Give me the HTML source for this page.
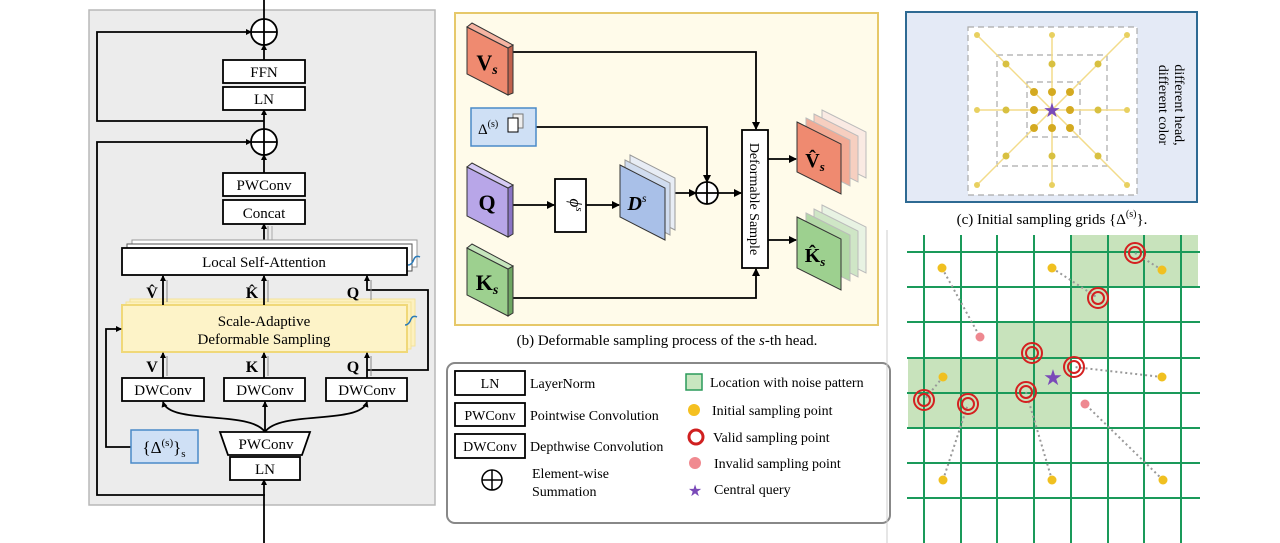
<!DOCTYPE html>
<html><head><meta charset="utf-8"><style>
html,body{margin:0;padding:0;background:#fff;}
svg{display:block;font-family:"Liberation Serif",serif;}
</style></head><body>
<svg width="1280" height="543" viewBox="0 0 1280 543" xmlns="http://www.w3.org/2000/svg">
<defs>
<marker id="a" markerWidth="8" markerHeight="8" refX="7" refY="4" orient="auto" markerUnits="userSpaceOnUse"><path d="M0,0 L8,4 L0,8 z" fill="#000"/></marker>
<marker id="s" markerWidth="6" markerHeight="6" refX="5" refY="3" orient="auto" markerUnits="userSpaceOnUse"><path d="M0,0 L6,3 L0,6 z" fill="#000"/></marker>
</defs>

<!-- ============ LEFT PANEL ============ -->
<rect x="89" y="10" width="346" height="495" fill="#ececec" stroke="#b8b8b8" stroke-width="1.5"/>
<g stroke="#000" stroke-width="1.8" fill="none">
<line x1="264" y1="0" x2="264" y2="19"/>
<circle cx="264" cy="32" r="13" fill="#fff"/>
<line x1="251" y1="32" x2="277" y2="32"/><line x1="264" y1="19" x2="264" y2="45"/>
<line x1="264" y1="60" x2="264" y2="45" marker-end="url(#s)"/>
<polyline points="264,121 97,121 97,32 251,32" marker-end="url(#s)"/>
<circle cx="264" cy="142" r="13" fill="#fff"/>
<line x1="251" y1="142" x2="277" y2="142"/><line x1="264" y1="129" x2="264" y2="155"/>
<line x1="264" y1="129" x2="264" y2="110" marker-end="url(#s)"/>
<line x1="264" y1="173" x2="264" y2="155" marker-end="url(#s)"/>
<polyline points="265,495 97,495 97,142 251,142" marker-end="url(#s)"/>
<line x1="264" y1="543" x2="264" y2="480" marker-end="url(#s)"/>
<line x1="264" y1="248" x2="264" y2="224" marker-end="url(#s)"/>
<line x1="268" y1="246" x2="268" y2="226" stroke="#888" stroke-width="1"/>
<line x1="272" y1="246" x2="272" y2="226" stroke="#aaa" stroke-width="1"/>
</g>
<g stroke="#000" stroke-width="1.8" fill="#fff">
<rect x="223" y="60" width="82" height="23"/>
<rect x="223" y="87" width="82" height="23"/>
<rect x="223" y="173" width="82" height="23"/>
<rect x="223" y="200" width="82" height="24"/>
</g>
<g font-size="15" text-anchor="middle">
<text x="264" y="77">FFN</text><text x="264" y="104">LN</text>
<text x="264" y="190">PWConv</text><text x="264" y="218">Concat</text>
</g>
<!-- LSA stack -->
<rect x="132" y="240" width="285" height="27" fill="#fff" stroke="#999" stroke-width="1"/>
<rect x="127" y="244" width="285" height="27" fill="#fff" stroke="#555" stroke-width="1"/>
<rect x="122" y="248" width="285" height="27" fill="#fff" stroke="#000" stroke-width="1.8"/>
<text x="264" y="267" font-size="15" text-anchor="middle">Local Self-Attention</text>
<path d="M408,265 q4,0 6,-6 q2,-4 6,-2" stroke="#2a7ab8" stroke-width="1.5" fill="none"/>
<!-- SADS -->
<rect x="130" y="299" width="285" height="47" fill="#fdf1bf" stroke="#f3e29a" stroke-width="1"/>
<rect x="126" y="302" width="285" height="47" fill="#fdf1bf" stroke="#f3e29a" stroke-width="1"/>
<rect x="122" y="305" width="285" height="47" fill="#fdf3c8" stroke="#f0d878" stroke-width="2"/>
<text x="264" y="326" font-size="15" text-anchor="middle">Scale-Adaptive</text>
<text x="264" y="344" font-size="15" text-anchor="middle">Deformable Sampling</text>
<path d="M405,325 q4,0 6,-6 q2,-4 6,-2" stroke="#2a7ab8" stroke-width="1.5" fill="none"/>
<g stroke="#000" stroke-width="1.8" fill="none">
<line x1="163" y1="305" x2="163" y2="276" marker-end="url(#s)"/>
<line x1="264" y1="305" x2="264" y2="276" marker-end="url(#s)"/>
<line x1="367" y1="378" x2="367" y2="353" marker-end="url(#s)"/>
<line x1="163" y1="378" x2="163" y2="353" marker-end="url(#s)"/>
<line x1="264" y1="378" x2="264" y2="353" marker-end="url(#s)"/>
<polyline points="367,370 428,370 428,290 367,290 367,276" marker-end="url(#s)"/>
<polyline points="165,447 106,447 106,329 121,329" marker-end="url(#s)"/>
<path d="M265,432 C250,410 170,425 163,402" marker-end="url(#s)"/>
<path d="M265,432 C280,410 360,425 367,402" marker-end="url(#s)"/>
<line x1="265" y1="432" x2="265" y2="402" marker-end="url(#s)"/>
<line x1="265" y1="479" x2="265" y2="457"/>
</g>
<g stroke="#888" stroke-width="1"><line x1="167" y1="302" x2="167" y2="280"/><line x1="268" y1="302" x2="268" y2="280"/><line x1="371" y1="300" x2="371" y2="280"/><line x1="167" y1="376" x2="167" y2="356"/><line x1="268" y1="376" x2="268" y2="356"/><line x1="371" y1="376" x2="371" y2="356"/></g>
<g font-size="16" font-weight="bold" text-anchor="middle">
<text x="152" y="298">V̂</text><text x="252" y="298">K̂</text><text x="353" y="298">Q</text>
<text x="152" y="372">V</text><text x="252" y="372">K</text><text x="353" y="372">Q</text>
</g>
<g stroke="#000" stroke-width="1.8" fill="#fff">
<rect x="122" y="378" width="82" height="23"/>
<rect x="224" y="378" width="81" height="23"/>
<rect x="326" y="378" width="81" height="23"/>
<polygon points="220,432 310,432 302,455 228,455"/>
<rect x="230" y="457" width="70" height="23"/>
</g>
<g font-size="15" text-anchor="middle">
<text x="163" y="395">DWConv</text><text x="265" y="395">DWConv</text><text x="367" y="395">DWConv</text>
<text x="266" y="449">PWConv</text><text x="265" y="474">LN</text>
</g>
<rect x="131" y="430" width="67" height="33" fill="#cfe0f5" stroke="#4a8ac8" stroke-width="1.5"/>
<text x="164" y="453" font-size="17" text-anchor="middle">{Δ<tspan font-size="11" dy="-7">(s)</tspan><tspan dy="7">}</tspan><tspan font-size="11" dy="4">s</tspan></text>

<!-- ============ MIDDLE PANEL ============ -->
<rect x="455" y="13" width="423" height="312" fill="#fffbea" stroke="#e6c869" stroke-width="2"/>
<g stroke="#000" stroke-width="1.8" fill="none">
<polyline points="513,52 756,52 756,129" marker-end="url(#a)"/>
<polyline points="536,127 707,127 707,182" marker-end="url(#a)"/>
<polyline points="513,298 756,298 756,269" marker-end="url(#a)"/>
<line x1="513" y1="205" x2="554" y2="205" marker-end="url(#a)"/>
<line x1="586" y1="205" x2="619" y2="205" marker-end="url(#a)"/>
<line x1="675" y1="193" x2="696" y2="193" marker-end="url(#a)"/>
<line x1="718" y1="193" x2="741" y2="193" marker-end="url(#a)"/>
<line x1="768" y1="159" x2="796" y2="159" marker-end="url(#a)"/>
<line x1="768" y1="240" x2="796" y2="240" marker-end="url(#a)"/>
<circle cx="707" cy="193" r="11" fill="#fff"/>
<line x1="696" y1="193" x2="718" y2="193"/><line x1="707" y1="182" x2="707" y2="204"/>
</g>
<!-- 3D plates -->
<g stroke="#333" stroke-width="1">
<polygon points="467,27 508,48 508,95 467,74" fill="#ef8a70"/>
<polygon points="508,48 513,45 513,93 508,95" fill="#c0614c"/>
<polygon points="467,27 472,23 513,45 508,48" fill="#f6b4a2"/>
<polygon points="467,167 508,188 508,237 467,216" fill="#b8a6e8"/>
<polygon points="508,188 513,185 513,234 508,237" fill="#8a74c4"/>
<polygon points="467,167 472,163 513,185 508,188" fill="#d6cbf4"/>
<polygon points="467,248 508,269 508,316 467,295" fill="#9dd08f"/>
<polygon points="508,269 513,266 513,313 508,316" fill="#6ea662"/>
<polygon points="467,248 472,244 513,266 508,269" fill="#c6e6bd"/>
</g>
<g font-size="22" font-weight="bold" text-anchor="middle">
<text x="487" y="70">V<tspan font-size="14" font-style="italic" dy="4">s</tspan></text>
<text x="487" y="210">Q</text>
<text x="487" y="290">K<tspan font-size="14" font-style="italic" dy="4">s</tspan></text>
</g>
<rect x="471" y="108" width="65" height="38" fill="#cfe0f5" stroke="#4a8ac8" stroke-width="1.5"/>
<text x="478" y="134" font-size="15">Δ<tspan font-size="10" dy="-7">(s)</tspan></text>
<rect x="513" y="114" width="10" height="14" fill="#eee" stroke="#777" stroke-width="1"/>
<rect x="508" y="118" width="10" height="14" fill="#fff" stroke="#000" stroke-width="1"/>
<rect x="555" y="179" width="31" height="53" fill="#fff" stroke="#000" stroke-width="1.8"/>
<text x="570" y="205" font-size="17" font-style="italic" text-anchor="middle" transform="rotate(90 570 205)">ϕ<tspan font-size="11" dy="-6">s</tspan></text>
<!-- Ds stack -->
<g stroke="#999" stroke-width="1">
<polygon points="630,155 675,178 675,230 630,207" fill="#e8edf5"/>
<polygon points="625,160 670,183 670,235 625,212" fill="#d0dcef"/>
</g>
<polygon points="620,165 665,188 665,240 620,217" fill="#a9c0e8" stroke="#333" stroke-width="1"/>
<text x="637" y="210" font-size="20" font-weight="bold" font-style="italic" text-anchor="middle">D<tspan font-size="12" dy="-8" font-weight="normal">s</tspan></text>
<!-- Deformable sample -->
<rect x="742" y="130" width="26" height="138" fill="#fff" stroke="#000" stroke-width="1.8"/>
<text x="755" y="199" font-size="14" text-anchor="middle" transform="rotate(90 755 199)" dy="5">Deformable Sample</text>
<!-- Vs hat stack -->
<g stroke="#bbb" stroke-width="1">
<polygon points="822,110 866,132 866,178 822,156" fill="#faeae3"/>
<polygon points="814,114 858,136 858,182 814,160" fill="#f6cfc0"/>
<polygon points="806,118 850,140 850,186 806,164" fill="#f2aa94"/>
</g>
<polygon points="797,122 841,144 841,194 797,172" fill="#ef8a70" stroke="#333" stroke-width="1"/>
<text x="815" y="167" font-size="20" font-weight="bold" text-anchor="middle">V̂<tspan font-size="13" font-style="italic" dy="4">s</tspan></text>
<g stroke="#bbb" stroke-width="1">
<polygon points="822,205 866,227 866,273 822,251" fill="#e8f3e3"/>
<polygon points="814,209 858,231 858,277 814,255" fill="#cfe6c6"/>
<polygon points="806,213 850,235 850,281 806,259" fill="#b3d9a7"/>
</g>
<polygon points="797,217 841,239 841,290 797,268" fill="#9dd08f" stroke="#333" stroke-width="1"/>
<text x="815" y="262" font-size="20" font-weight="bold" text-anchor="middle">K̂<tspan font-size="13" font-style="italic" dy="4">s</tspan></text>
<text x="667" y="345" font-size="15" text-anchor="middle">(b) Deformable sampling process of the <tspan font-style="italic">s</tspan>-th head.</text>

<!-- Legend -->
<rect x="447" y="363" width="443" height="160" rx="8" fill="#fff" stroke="#888" stroke-width="2"/>
<g stroke="#000" stroke-width="1.8" fill="#fff">
<rect x="455" y="371" width="70" height="24"/>
<rect x="455" y="403" width="70" height="23"/>
<rect x="455" y="434" width="70" height="24"/>
</g>
<g font-size="14">
<text x="490" y="388" text-anchor="middle">LN</text>
<text x="490" y="420" text-anchor="middle">PWConv</text>
<text x="490" y="451" text-anchor="middle">DWConv</text>
<text x="530" y="388">LayerNorm</text>
<text x="530" y="420">Pointwise Convolution</text>
<text x="530" y="451">Depthwise Convolution</text>
<text x="532" y="478">Element-wise</text>
<text x="532" y="496">Summation</text>
<text x="710" y="387">Location with noise pattern</text>
<text x="712" y="415">Initial sampling point</text>
<text x="713" y="442">Valid sampling point</text>
<text x="714" y="468">Invalid sampling point</text>
<text x="714" y="494">Central query</text>
</g>
<g stroke="#000" stroke-width="1.5" fill="none"><circle cx="492" cy="480" r="10"/><line x1="482" y1="480" x2="502" y2="480"/><line x1="492" y1="470" x2="492" y2="490"/></g>
<rect x="686" y="374" width="16" height="16" fill="#c8e6c0" stroke="#2a9a5a" stroke-width="1.5"/>
<circle cx="694" cy="410" r="6" fill="#f5c020"/>
<circle cx="696" cy="437" r="7" fill="#fff" stroke="#d02020" stroke-width="3"/>
<circle cx="695" cy="463" r="6" fill="#f08a90"/>
<text x="695" y="496" font-size="16" fill="#7a4ab8" text-anchor="middle">★</text>

<!-- ============ RIGHT PANEL ============ -->
<rect x="906" y="12" width="291" height="190" fill="#e4eaf6" stroke="#2e6a93" stroke-width="2"/>
<rect x="968" y="27" width="169" height="168" fill="#fff" stroke="#aaa" stroke-width="1.2" stroke-dasharray="6,4"/>
<rect x="997" y="55" width="110" height="111" fill="none" stroke="#aaa" stroke-width="1.2" stroke-dasharray="6,4"/>
<rect x="1027" y="82" width="53" height="55" fill="none" stroke="#aaa" stroke-width="1.2" stroke-dasharray="6,4"/>
<g stroke="#f3dc8a" stroke-width="1.5">
<line x1="977" y1="35" x2="1127" y2="185"/><line x1="1127" y1="35" x2="977" y2="185"/>
<line x1="1052" y1="35" x2="1052" y2="185"/><line x1="977" y1="110" x2="1127" y2="110"/>
</g>
<g fill="#e8d060">
<circle cx="977" cy="35" r="3"/><circle cx="1052" cy="35" r="3"/><circle cx="1127" cy="35" r="3"/>
<circle cx="977" cy="110" r="3"/><circle cx="1127" cy="110" r="3"/>
<circle cx="977" cy="185" r="3"/><circle cx="1052" cy="185" r="3"/><circle cx="1127" cy="185" r="3"/>
</g>
<g fill="#d8c040">
<circle cx="1006" cy="64" r="3.5"/><circle cx="1052" cy="64" r="3.5"/><circle cx="1098" cy="64" r="3.5"/>
<circle cx="1006" cy="110" r="3.5"/><circle cx="1098" cy="110" r="3.5"/>
<circle cx="1006" cy="156" r="3.5"/><circle cx="1052" cy="156" r="3.5"/><circle cx="1098" cy="156" r="3.5"/>
</g>
<g fill="#d4aa20">
<circle cx="1034" cy="92" r="4"/><circle cx="1052" cy="92" r="4"/><circle cx="1070" cy="92" r="4"/>
<circle cx="1034" cy="110" r="4"/><circle cx="1070" cy="110" r="4"/>
<circle cx="1034" cy="128" r="4"/><circle cx="1052" cy="128" r="4"/><circle cx="1070" cy="128" r="4"/>
</g>
<text x="1052" y="117" font-size="20" fill="#7a4ab8" text-anchor="middle">★</text>
<text x="1175" y="105" font-size="14" text-anchor="middle" transform="rotate(90 1175 105)">different head,</text>
<text x="1159" y="105" font-size="14" text-anchor="middle" transform="rotate(90 1159 105)">different color</text>
<text x="1052" y="224" font-size="15" text-anchor="middle">(c) Initial sampling grids {Δ<tspan font-size="10" dy="-7">(s)</tspan><tspan dy="7">}.</tspan></text>

<line x1="887" y1="230" x2="887" y2="543" stroke="#ccc" stroke-width="1"/>
<!-- grid greens -->
<g fill="#c8e3bc">
<rect x="1072" y="235" width="126" height="52"/>
<rect x="1072" y="287" width="36" height="36"/>
<rect x="998" y="323" width="110" height="35"/>
<rect x="908" y="358" width="164" height="70"/>
</g>
<g stroke="#1a9a5a" stroke-width="2">
<line x1="924" y1="235" x2="924" y2="543"/><line x1="961" y1="235" x2="961" y2="543"/>
<line x1="997" y1="235" x2="997" y2="543"/><line x1="1034" y1="235" x2="1034" y2="543"/>
<line x1="1071" y1="235" x2="1071" y2="543"/><line x1="1108" y1="235" x2="1108" y2="543"/>
<line x1="1144" y1="235" x2="1144" y2="543"/><line x1="1181" y1="235" x2="1181" y2="543"/>
<line x1="907" y1="252" x2="1200" y2="252"/><line x1="907" y1="287" x2="1200" y2="287"/>
<line x1="907" y1="322" x2="1200" y2="322"/><line x1="907" y1="358" x2="1200" y2="358"/>
<line x1="907" y1="393" x2="1200" y2="393"/><line x1="907" y1="428" x2="1200" y2="428"/>
<line x1="907" y1="463" x2="1200" y2="463"/><line x1="907" y1="498" x2="1200" y2="498"/>
</g>
<g stroke="#999" stroke-width="2" stroke-dasharray="2,3">
<line x1="942" y1="268" x2="980" y2="337"/><line x1="1052" y1="268" x2="1098" y2="298"/>
<line x1="1162" y1="270" x2="1135" y2="253"/><line x1="943" y1="377" x2="924" y2="400"/>
<line x1="1162" y1="377" x2="1074" y2="367"/><line x1="943" y1="480" x2="968" y2="404"/>
<line x1="1052" y1="480" x2="1026" y2="392"/><line x1="1163" y1="480" x2="1085" y2="404"/>
</g>
<g fill="#f0c020">
<circle cx="942" cy="268" r="4.5"/><circle cx="1052" cy="268" r="4.5"/><circle cx="1162" cy="270" r="4.5"/>
<circle cx="943" cy="377" r="4.5"/><circle cx="1162" cy="377" r="4.5"/>
<circle cx="943" cy="480" r="4.5"/><circle cx="1052" cy="480" r="4.5"/><circle cx="1163" cy="480" r="4.5"/>
</g>
<g fill="#ee8890"><circle cx="980" cy="337" r="4.5"/><circle cx="1085" cy="404" r="4.5"/></g>
<g fill="none" stroke="#d42020" stroke-width="2">
<circle cx="1135" cy="253" r="10"/><circle cx="1135" cy="253" r="6"/>
<circle cx="1098" cy="298" r="10"/><circle cx="1098" cy="298" r="6"/>
<circle cx="1032" cy="353" r="10"/><circle cx="1032" cy="353" r="6"/>
<circle cx="1074" cy="367" r="10"/><circle cx="1074" cy="367" r="6"/>
<circle cx="1026" cy="392" r="10"/><circle cx="1026" cy="392" r="6"/>
<circle cx="924" cy="400" r="10"/><circle cx="924" cy="400" r="6"/>
<circle cx="968" cy="404" r="10"/><circle cx="968" cy="404" r="6"/>
</g>
<text x="1053" y="385" font-size="22" fill="#7a4ab8" text-anchor="middle">★</text>
</svg>
</body></html>
